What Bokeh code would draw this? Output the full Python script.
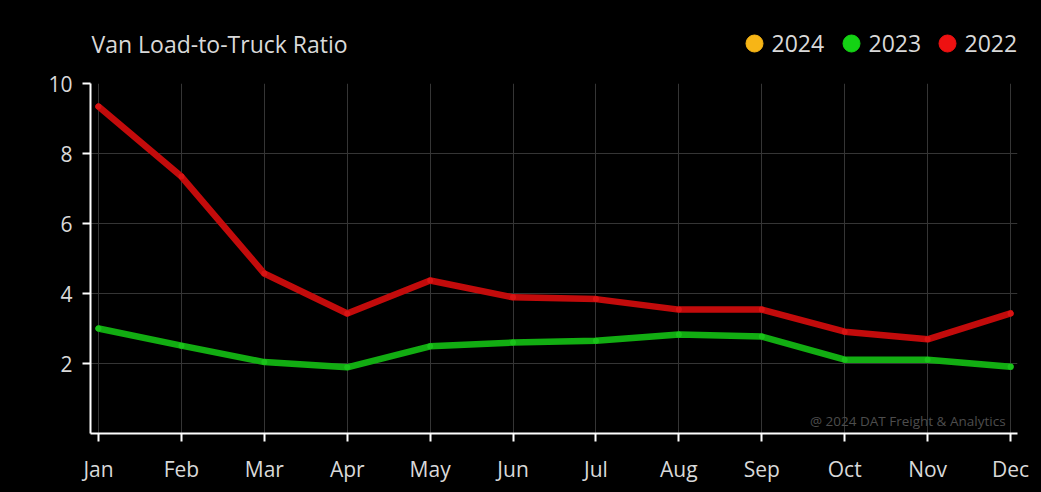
from bokeh.plotting import figure
from bokeh.layouts import column
from bokeh.models import Range1d, FixedTicker, Label
from bokeh.embed import file_html
from bokeh.resources import INLINE

months = ["Jan", "Feb", "Mar", "Apr", "May", "Jun", "Jul", "Aug", "Sep", "Oct", "Nov", "Dec"]
y2022 = [9.34, 7.34, 4.57, 3.43, 4.37, 3.89, 3.84, 3.54, 3.54, 2.91, 2.69, 3.43]
y2023 = [3.00, 2.51, 2.04, 1.89, 2.49, 2.60, 2.65, 2.83, 2.77, 2.11, 2.11, 1.91]
y_ticks = [2, 4, 6, 8, 10]
legend_years = ["2024", "2023", "2022"]
legend_colors = ["#f7b516", "#14d314", "#ee1111"]

FONT = "Open Sans"
TXT = "#d9d9d9"
W = 1041
HEAD_H = 70
LEFT, RIGHT = 90, 24

# ---------- header (title + legend); its frame is aligned with the chart's frame ----------
head = figure(width=W, height=HEAD_H, output_backend="svg", toolbar_location=None,
              x_range=Range1d(LEFT, W - RIGHT), y_range=Range1d(HEAD_H, 0),
              x_axis_location=None, y_axis_location=None,
              min_border_left=LEFT, min_border_right=RIGHT, min_border_top=0, min_border_bottom=0)
head.background_fill_color = "#000000"
head.border_fill_color = "#000000"
head.outline_line_color = None
head.grid.visible = False

head.text(x=[LEFT + 1], y=[43], text=["Van Load-to-Truck Ratio"], text_font={"value": FONT},
          text_font_size="23px", text_color=TXT, text_baseline="middle", text_align="left")

leg_x = [754, 851, 947]
head.scatter(x=leg_x, y=[43] * 3, size=17, marker="circle", fill_color=legend_colors,
             line_color=legend_colors)
head.text(x=[x + 17 for x in leg_x], y=[43] * 3, text=legend_years, text_font={"value": FONT},
          text_font_size="23px", text_color=TXT, text_baseline="middle", text_align="left")

# ---------- main chart ----------
xs = list(range(len(months)))
p = figure(width=W, height=492 - HEAD_H, output_backend="svg", toolbar_location=None,
           x_range=Range1d(-0.0965, 11.084), y_range=Range1d(0, 10),
           min_border_left=LEFT, min_border_right=RIGHT, min_border_top=83 - HEAD_H, min_border_bottom=59)
p.background_fill_color = "#000000"
p.border_fill_color = "#000000"
p.outline_line_color = None

p.line(xs, y2022, line_color="#c20b0b", line_width=6.5, line_cap="round", line_join="round")
p.scatter(xs, y2022, size=6, marker="circle", fill_color="#d81414", line_color=None)
p.line(xs, y2023, line_color="#12ad12", line_width=6.5, line_cap="round", line_join="round")
p.scatter(xs, y2023, size=6, marker="circle", fill_color="#1ac21a", line_color=None)

p.xaxis.ticker = FixedTicker(ticks=xs)
p.xaxis.major_label_overrides = {i: m for i, m in enumerate(months)}
p.yaxis.ticker = FixedTicker(ticks=y_ticks)
for ax in (p.xaxis, p.yaxis):
    ax.axis_line_color = "#ffffff"
    ax.axis_line_width = 2
    ax.major_tick_line_color = "#ffffff"
    ax.major_tick_line_width = 2
    ax.major_tick_in = 0
    ax.major_tick_out = 8
    ax.minor_tick_line_color = None
    ax.major_label_text_color = TXT
    ax.major_label_text_font = FONT
    ax.major_label_text_font_size = "21px"
p.yaxis.major_label_standoff = 10
p.xaxis.major_label_standoff = 13

p.xgrid.ticker = FixedTicker(ticks=xs)
p.ygrid.ticker = FixedTicker(ticks=y_ticks)
p.grid.grid_line_color = "#353535"
p.grid.grid_line_width = 1

p.add_layout(Label(x=10.94, y=0.37, text="@ 2024 DAT Freight & Analytics", text_font=FONT,
                   text_font_size="13.5px", text_color="#4d4d4d", text_baseline="middle",
                   text_align="right"))

layout = column(head, p, spacing=0)
html = file_html(layout, INLINE)
html = html.replace("<head>", "<head><style>html,body{margin:0;padding:0;background:#000;overflow:hidden}</style>", 1)
open("out.html", "w").write(html)
